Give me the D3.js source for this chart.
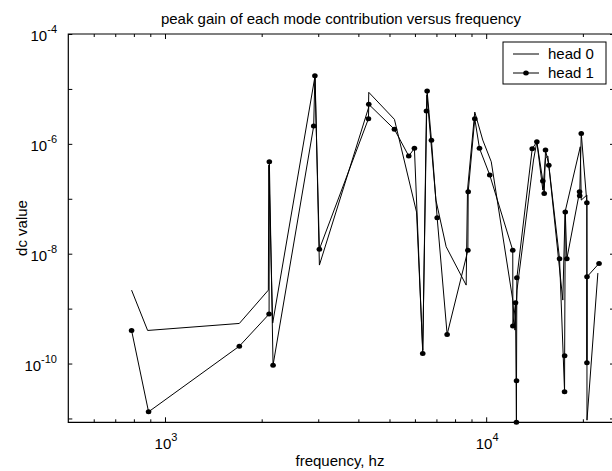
<!DOCTYPE html>
<html><head><meta charset="utf-8">
<script src="https://cdn.jsdelivr.net/npm/d3@7"></script>
<style>
html,body{margin:0;padding:0;background:#fff;}
svg{display:block;}
text{font-family:"Liberation Sans",Arial,Helvetica,sans-serif;fill:#000;}
</style></head>
<body>
<svg id="chart" width="612" height="471"></svg>
<script>
// ---- data ----
const title = "peak gain of each mode contribution versus frequency";
const xLabel = "frequency, hz";
const yLabel = "dc value";
const seriesNames = ["head 0", "head 1"];

const head0Freq = [787, 883, 1704, 2098, 2105, 2164, 2933, 3025, 4300, 4310, 5180, 6070, 6346, 6540, 6975, 7505, 8663, 8746, 9215, 9759, 10370, 12100, 12290, 12470, 14040, 14380, 15010, 15300, 15560, 17320, 17600, 19630, 19770, 20580, 20600, 22270];
const head0Gain = [2.17e-9, 4.0e-10, 5.37e-10, 2.17e-9, 4.1e-7, 5.45e-10, 1.74e-5, 6.2e-9, 4.49e-6, 8.67e-6, 2.79e-6, 5.73e-8, 1.75e-10, 7.74e-6, 9.46e-8, 1.34e-8, 2.68e-9, 1.44e-7, 3.79e-6, 1.17e-6, 4.72e-7, 1.43e-9, 4.06e-10, 2.17e-9, 5.07e-7, 1.09e-6, 1.44e-7, 5.51e-7, 6.0e-7, 1.43e-9, 5.73e-8, 8.85e-7, 9.46e-8, 1.17e-7, 9.3e-12, 4.44e-9];

const head1Freq = [787, 889, 1704, 2109, 2113, 2170, 2904, 2929, 3025, 4300, 4310, 5180, 5740, 5978, 6346, 6516, 6549, 6755, 7037, 7558, 8770, 8790, 9215, 9531, 10260, 12100, 12110, 12340, 12420, 12430, 12460, 13910, 14380, 15010, 15160, 15300, 15670, 16920, 17540, 17550, 17630, 17830, 19530, 19550, 19770, 20580, 20590, 20600, 22460];
const head1Gain = [4.0e-10, 1.32e-11, 2.07e-10, 7.94e-10, 4.72e-7, 9.35e-11, 2.11e-6, 1.74e-5, 1.21e-8, 2.87e-6, 5.24e-6, 1.84e-6, 6.0e-7, 8.28e-7, 1.53e-10, 3.96e-6, 9.16e-6, 1.16e-6, 4.51e-8, 3.39e-10, 1.15e-8, 1.34e-7, 2.87e-6, 8.28e-7, 2.70e-7, 1.15e-8, 4.8e-10, 1.28e-9, 8.5e-12, 4.84e-11, 3.64e-9, 8.15e-7, 1.09e-6, 2.10e-7, 1.25e-7, 7.7e-7, 4.06e-7, 8.07e-9, 3.05e-11, 1.38e-10, 5.73e-8, 8.07e-9, 1.34e-7, 1.14e-7, 1.55e-6, 8.45e-8, 1.03e-10, 3.79e-9, 6.65e-9];

const xDomain = [500, 25000];
const yDomain = [Math.pow(10, -11.07), 1e-4];
const xMajorTicks = [1e3, 1e4];
const xMajorExp = ["3", "4"];
const xMinorTicks = [600, 700, 800, 900, 2000, 3000, 4000, 5000, 6000, 7000, 8000, 9000, 20000];
const yTicks = [1e-4, 1e-5, 1e-6, 1e-7, 1e-8, 1e-9, 1e-10, 1e-11];
const yLabelTicks = [1e-4, 1e-6, 1e-8, 1e-10];
const yLabelExp = ["-4", "-6", "-8", "-10"];

// ---- layout ----
const L = 68.3, R = 614, T = 34, B = 422.3;
const svg = d3.select("#chart");
const x = d3.scaleLog().domain(xDomain).range([L, R]);
const y = d3.scaleLog().domain(yDomain).range([B, T]);

// ticks via d3 axes (inward)
function axisG(axis, tx, ty) {
  const g = svg.append("g").attr("transform", `translate(${tx},${ty})`).call(axis);
  g.select(".domain").remove();
  g.selectAll("text").remove();
  g.selectAll("line").attr("stroke", "#000").attr("stroke-width", 1);
  return g;
}
axisG(d3.axisBottom(x).tickValues(xMajorTicks).tickSize(-5).tickFormat(""), 0, B);
axisG(d3.axisBottom(x).tickValues(xMinorTicks).tickSize(-3).tickFormat(""), 0, B);
axisG(d3.axisTop(x).tickValues(xMajorTicks).tickSize(-5).tickFormat(""), 0, T);
axisG(d3.axisTop(x).tickValues(xMinorTicks).tickSize(-3).tickFormat(""), 0, T);
axisG(d3.axisLeft(y).tickValues(yTicks).tickSize(-4).tickFormat(""), L, 0);
axisG(d3.axisRight(y).tickValues(yTicks).tickSize(-4).tickFormat(""), R, 0);

// frame
svg.append("path")
  .attr("d", `M${L},${T}H${R}V${B}H${L}Z`)
  .attr("fill", "none").attr("stroke", "#000").attr("stroke-width", 1.2);

// tick labels
xMajorTicks.forEach((v, i) => {
  const t = svg.append("text").attr("x", x(v) + 1).attr("y", 449)
    .attr("text-anchor", "middle").attr("font-size", 15);
  t.append("tspan").text("10");
  t.append("tspan").attr("dy", -8).attr("font-size", 11).text(xMajorExp[i]);
});
yLabelTicks.forEach((v, i) => {
  const t = svg.append("text").attr("x", 57).attr("y", y(v) + 7)
    .attr("text-anchor", "end").attr("font-size", 15);
  t.append("tspan").text("10");
  t.append("tspan").attr("dy", -8).attr("font-size", 11).text(yLabelExp[i]);
});

// titles
svg.append("text").attr("x", 341).attr("y", 24).attr("text-anchor", "middle")
  .attr("font-size", 15).text(title);
svg.append("text").attr("x", 340).attr("y", 466).attr("text-anchor", "middle")
  .attr("font-size", 15).text(xLabel);
svg.append("text").attr("transform", "translate(27,228) rotate(-90)")
  .attr("text-anchor", "middle").attr("font-size", 15).text(yLabel);

// lines
const line = d3.line().x(d => x(d[0])).y(d => y(d[1]));
const s0 = head0Freq.map((f, i) => [f, head0Gain[i]]);
const s1 = head1Freq.map((f, i) => [f, head1Gain[i]]);
svg.append("path").datum(s0).attr("d", line)
  .attr("fill", "none").attr("stroke", "#000").attr("stroke-width", 1);
svg.append("path").datum(s1).attr("d", line)
  .attr("fill", "none").attr("stroke", "#000").attr("stroke-width", 1);
svg.append("g").selectAll("ellipse").data(s1).join("ellipse")
  .attr("cx", d => x(d[0])).attr("cy", d => y(d[1])).attr("rx", 2.8).attr("ry", 2.5).attr("fill", "#000");

// legend
const lg = svg.append("g");
lg.append("rect").attr("x", 503).attr("y", 42).attr("width", 103).attr("height", 42)
  .attr("fill", "#fff").attr("stroke", "#000").attr("stroke-width", 1);
[54, 73].forEach((ly, i) => {
  lg.append("line").attr("x1", 513).attr("x2", 539).attr("y1", ly).attr("y2", ly)
    .attr("stroke", "#000").attr("stroke-width", 1);
  if (i === 1) lg.append("ellipse").attr("cx", 526).attr("cy", ly).attr("rx", 2.8).attr("ry", 2.5).attr("fill", "#000");
  lg.append("text").attr("x", 548).attr("y", ly + 5).attr("font-size", 15).text(seriesNames[i]);
});
</script>
</body></html>
